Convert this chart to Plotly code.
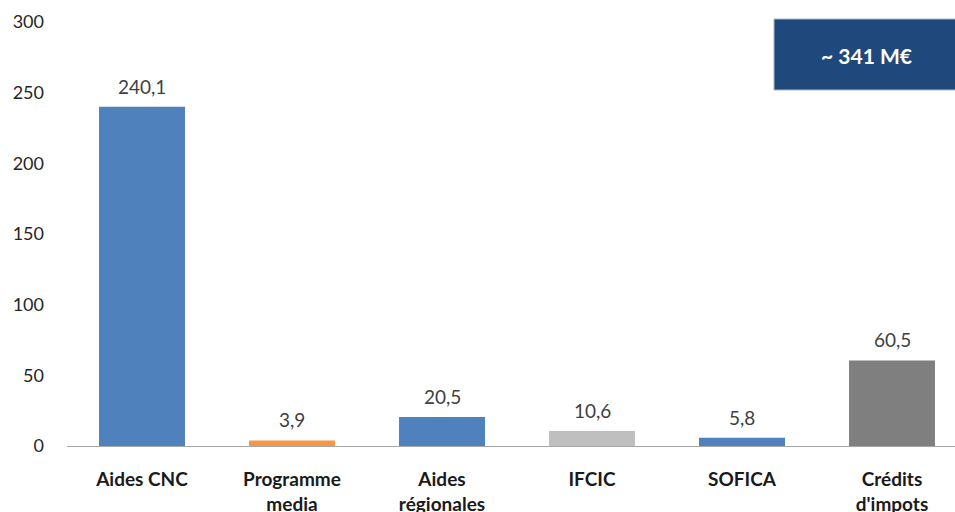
import plotly.graph_objects as go

categories = ["Aides CNC", "Programme<br>media", "Aides<br>régionales", "IFCIC", "SOFICA", "Crédits<br>d'impots"]
values = [240.1, 3.9, 20.5, 10.6, 5.8, 60.5]
value_labels = ["240,1", "3,9", "20,5", "10,6", "5,8", "60,5"]
bar_colors = ["#4F81BD", "#F79646", "#4F81BD", "#BFBFBF", "#4F81BD", "#7F7F7F"]
y_ticks = [0, 50, 100, 150, 200, 250, 300]
total_label = "~ 341 M€"

FONT = "Lato, Carlito, Calibri, sans-serif"

xs = list(range(len(categories)))

fig = go.Figure(go.Bar(
    x=xs,
    y=values,
    marker=dict(color=bar_colors, line=dict(width=0)),
    width=0.573,
))

annotations = [dict(
    x=x, y=v, xref="x", yref="y", text=t,
    showarrow=False, xanchor="center", yanchor="bottom", yshift=7,
    font=dict(family=FONT, size=19, color="#404040"),
) for x, v, t in zip(xs, values, value_labels)]

annotations.append(dict(
    text=f"<b>{total_label}</b>", xref="paper", yref="paper",
    x=(866 - 67) / 888, y=(446 - 55) / 424,
    showarrow=False, xanchor="center", yanchor="middle",
    font=dict(family=FONT, size=21, color="white"),
))

fig.update_layout(
    width=955, height=512,
    margin=dict(l=67, r=0, t=22, b=66),
    paper_bgcolor="white", plot_bgcolor="white",
    showlegend=False,
    font=dict(family=FONT),
    xaxis=dict(
        range=[-0.5, -0.5 + 888 / 150],
        tickvals=xs,
        ticktext=[f"<b>{c}</b>" for c in categories],
        tickfont=dict(family=FONT, size=19, color="#1a1a1a"),
        showgrid=False, zeroline=False,
        showline=True, linecolor="#A6A6A6", linewidth=1,
        ticks="", ticklabelstandoff=16, automargin=False,
    ),
    yaxis=dict(
        range=[0, 300],
        tickvals=y_ticks,
        tickfont=dict(family=FONT, size=18, color="#262626"),
        showgrid=False, zeroline=False, showline=False,
        ticks="", ticklabelstandoff=22, automargin=False,
    ),
    shapes=[dict(
        type="rect", xref="paper", yref="paper",
        x0=(774 - 67) / 888, x1=1.02,
        y0=(446 - 90) / 424, y1=(446 - 19) / 424,
        fillcolor="#1F497D", line=dict(color="#A9B8CC", width=1),
    )],
    annotations=annotations,
)

fig.write_html("out.html")
